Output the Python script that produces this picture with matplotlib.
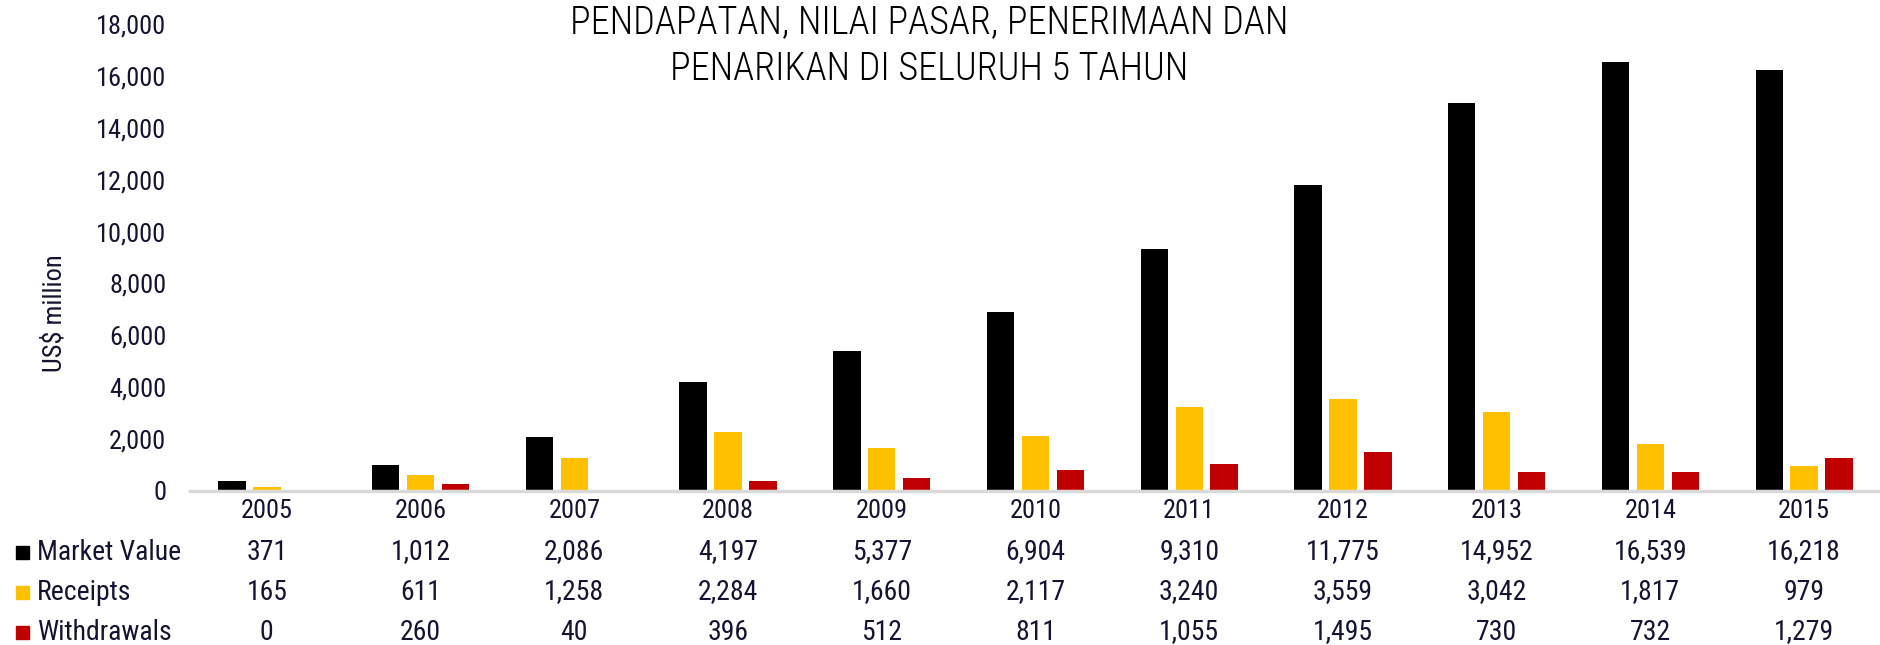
import matplotlib
matplotlib.use("Agg")
import matplotlib.pyplot as plt
import matplotlib.transforms as mtransforms
from matplotlib.patches import Rectangle
import numpy as np

plt.rcParams['font.family'] = ['Roboto Condensed', 'Liberation Sans Narrow', 'Lato', 'DejaVu Sans']

years = ['2005', '2006', '2007', '2008', '2009', '2010', '2011', '2012', '2013', '2014', '2015']
market_value = [371, 1012, 2086, 4197, 5377, 6904, 9310, 11775, 14952, 16539, 16218]
receipts = [165, 611, 1258, 2284, 1660, 2117, 3240, 3559, 3042, 1817, 979]
withdrawals = [0, 260, 40, 396, 512, 811, 1055, 1495, 730, 732, 1279]

series_names = ['Market Value', 'Receipts', 'Withdrawals']
series_colors = ['#000000', '#FFC000', '#C00000']
text_col = '#141432'

fig = plt.figure(figsize=(18.81, 6.45), dpi=100)
ax = fig.add_axes([0.101, 0.2388, 0.899, 0.724])

x = np.arange(len(years))
bw = 0.178
step = 0.227
for i, (vals, col) in enumerate(zip([market_value, receipts, withdrawals], series_colors)):
    ax.bar(x + (i - 1) * step, vals, width=bw, color=col, zorder=2)

ax.set_xlim(-0.5, len(years) - 0.5)
ax.set_ylim(0, 18000)
ax.set_yticks(np.arange(0, 18001, 2000))
ax.set_yticklabels([f"{v:,}" for v in range(0, 18001, 2000)])
ax.tick_params(axis='y', length=0, pad=17, labelsize=19, labelcolor=text_col)
ax.set_xticks(x)
ax.set_xticklabels(years)
ax.tick_params(axis='x', length=0, pad=6, labelsize=19, labelcolor=text_col)
for s in ['top', 'right', 'left']:
    ax.spines[s].set_visible(False)
ax.spines['bottom'].set_color('#d9d9d9')
ax.spines['bottom'].set_linewidth(2.5)
ax.set_ylabel('US$ million', fontsize=19, color=text_col)
ax.yaxis.set_label_coords(-0.073, 0.38)

# data table below the chart
trans = mtransforms.blended_transform_factory(ax.transData, fig.transFigure)
row_y = [1 - 552 / 645, 1 - 592 / 645, 1 - 632 / 645]
for name, col, vals, ry in zip(series_names, series_colors,
                               [market_value, receipts, withdrawals], row_y):
    for xi, v in zip(x, vals):
        fig.text(xi, ry, f"{v:,}", transform=trans, ha='center', va='center',
                 fontsize=20, color=text_col)
    sq = 13
    fig.patches.append(Rectangle((16 / 1881, ry - sq / 2 / 645), sq / 1881, sq / 645,
                                 transform=fig.transFigure, color=col, figure=fig))
    fig.text(37 / 1881, ry, name, ha='left', va='center', fontsize=20, color=text_col)

fig.text(0.494, 1 - 46 / 645, 'PENDAPATAN, NILAI PASAR, PENERIMAAN DAN\nPENARIKAN DI SELURUH 5 TAHUN',
         ha='center', va='center', fontsize=27.5, fontweight='light', color='#000000',
         linespacing=1.3)

fig.savefig('out.png', dpi=100)
